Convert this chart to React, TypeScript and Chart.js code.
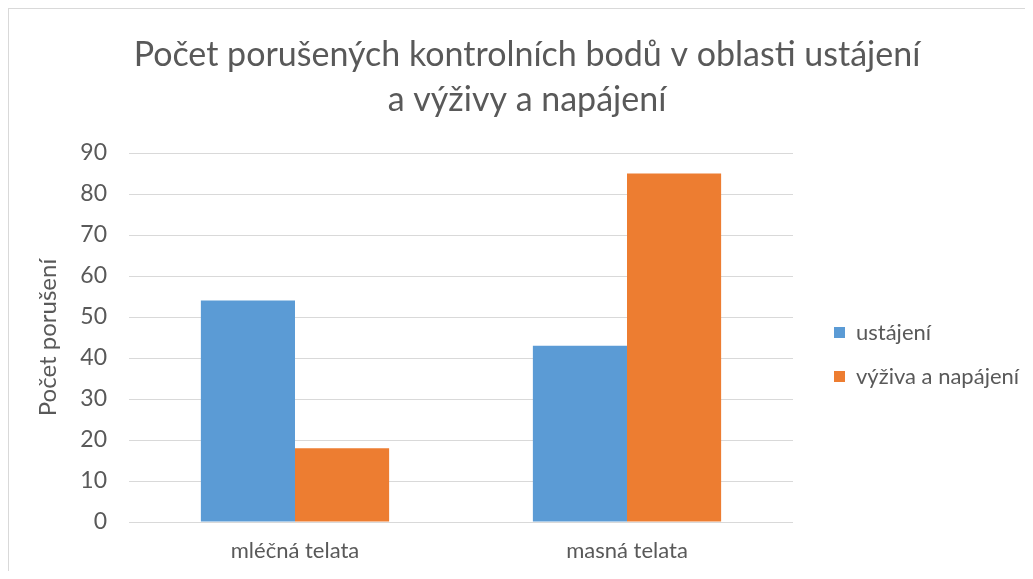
import React, { useEffect, useRef } from "react";
import { Chart, registerables } from "chart.js";

Chart.register(...registerables);

const titleLines = ["Počet porušených kontrolních bodů v oblasti ustájení", "a výživy a napájení"];
const categories = ["mléčná telata", "masná telata"];
const seriesNames = ["ustájení", "výživa a napájení"];
const ustajeni = [54, 43];
const vyziva = [18, 85];
const yTitle = "Počet porušení";
const yMin = 0;
const yMax = 90;
const yStep = 10;

const TEXT = "#595959";
const GRID = "#d9d9d9";
const FONT = "Lato, 'Noto Sans', sans-serif";

export default function App() {
  const ref = useRef<HTMLCanvasElement | null>(null);

  useEffect(() => {
    if (!ref.current) return;
    const legendPos = {
      id: "legendPos",
      beforeLayout(chart: any) {
        const lg = chart.legend;
        if (lg && !lg._patched) {
          const orig = lg.fit.bind(lg);
          lg.fit = () => {
            orig();
            lg.width = 232;
          };
          lg._patched = true;
        }
      },
      afterLayout(chart: any) {
        const lg = chart.legend;
        if (!lg) return;
        const pad = 22;
        const dx = chart.chartArea.right + 41 - pad - lg.left;
        lg.left += dx;
        lg.right += dx;
        lg.top = 161;
        lg.bottom = 530;
      },
    };
    const chart = new Chart(ref.current, {
      type: "bar",
      data: {
        labels: categories,
        datasets: [
          {
            label: seriesNames[0],
            data: ustajeni,
            backgroundColor: "#5B9BD5",
            borderWidth: 0,
          },
          {
            label: seriesNames[1],
            data: vyziva,
            backgroundColor: "#ED7D31",
            borderWidth: 0,
          },
        ],
      },
      plugins: [legendPos],
      options: {
        animation: false,
        responsive: false,
        maintainAspectRatio: false,
        layout: { padding: { left: 20, right: 0, top: 0, bottom: 0 } },
        datasets: {
          bar: { categoryPercentage: 0.567, barPercentage: 1 },
        },
        plugins: {
          title: {
            display: true,
            text: titleLines,
            color: TEXT,
            font: { family: FONT, size: 34, weight: "normal", lineHeight: 45 / 34 },
            padding: { top: 23.5, bottom: 30.5 },
          },
          legend: {
            display: true,
            position: "right",
            fullSize: false,
            labels: {
              color: TEXT,
              font: { family: FONT, size: 22 },
              boxWidth: 11,
              boxHeight: 11,
              padding: 22,
            },
          },
          tooltip: { enabled: false },
        },
        scales: {
          x: {
            grid: { display: false, drawTicks: false },
            border: { display: false },
            ticks: {
              color: TEXT,
              font: { family: FONT, size: 22 },
              padding: 15.8,
            },
            afterFit(scale: any) {
              scale.height = 49;
            },
          },
          y: {
            min: yMin,
            max: yMax,
            ticks: {
              stepSize: yStep,
              color: TEXT,
              font: { family: FONT, size: 23 },
              padding: 22,
            },
            grid: { color: GRID, lineWidth: 1, drawTicks: false },
            border: { display: false },
            title: {
              display: true,
              text: yTitle,
              color: TEXT,
              font: { family: FONT, size: 24 },
              padding: { top: 4.6, bottom: 0 },
            },
            afterFit(scale: any) {
              scale.width = 100;
            },
          },
        },
      },
    } as any);
    return () => chart.destroy();
  }, []);

  return (
    <div
      style={{
        position: "relative",
        width: 1017,
        height: 563,
        borderTop: `1px solid ${GRID}`,
        borderLeft: `1px solid ${GRID}`,
        boxSizing: "border-box",
        background: "#fff",
      }}
    >
      <canvas ref={ref} width={1016} height={562} style={{ display: "block" }} />
    </div>
  );
}
